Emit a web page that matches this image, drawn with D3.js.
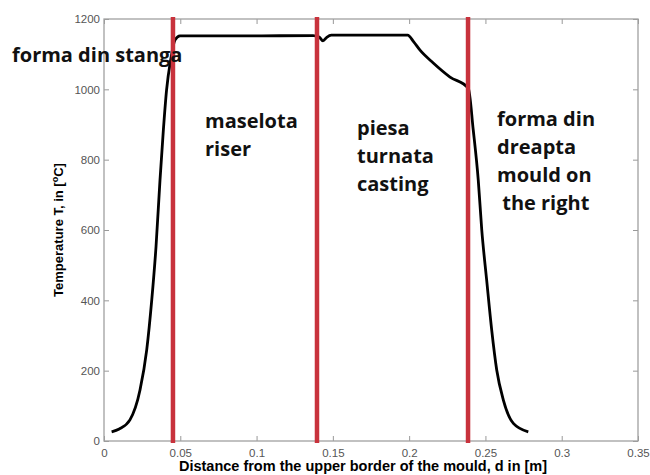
<!DOCTYPE html>
<html>
<head>
<meta charset="utf-8">
<script src="https://cdn.jsdelivr.net/npm/d3@7"></script>
<style>
  body { margin: 0; background: #fff; }
  .tick text { fill: #555; font-family: 'Liberation Sans', Arial, sans-serif; font-size: 11.5px; }
</style>
</head>
<body>
<div id="chart"></div>
<script>
// distance [m] and temperature [C]
const distance = [0.005, 0.010, 0.017, 0.0236, 0.028, 0.0313, 0.0341, 0.0367, 0.0389, 0.041, 0.0437, 0.0465, 0.0498,
    0.06, 0.1, 0.137, 0.141, 0.1435, 0.146, 0.149, 0.17, 0.199, 0.203, 0.207, 0.2158, 0.2268, 0.2388,
    0.242, 0.2453, 0.2476, 0.2508, 0.2541, 0.2574, 0.2617, 0.2683, 0.2781]
const temperature = [26, 34, 60, 145, 259, 401, 553, 742, 884, 998, 1084, 1140, 1152,
    1152, 1152, 1153, 1149, 1138, 1148, 1154, 1154, 1154, 1135, 1112, 1075, 1035, 1003,
    885, 742, 600, 458, 316, 202, 117, 50, 26]

// zone borders (red lines)
const borders = [0.0452, 0.1396, 0.2386]

const xTicks = [0, 0.05, 0.1, 0.15, 0.2, 0.25, 0.3, 0.35]
const yTicks = [0, 200, 400, 600, 800, 1000, 1200]

// zone labels, one array of lines per zone
const zoneLines = [
    ['forma din stanga'],
    ['maselota', 'riser'],
    ['piesa', 'turnata', 'casting'],
    ['forma din', 'dreapta', 'mould on', ' the right']
]
const zonePos = [[12, 62], [205, 128], [357, 135], [497, 126]]

const width = 650
const height = 475
const margin = { top: 19, right: 12, bottom: 34, left: 104 }

const svg = d3.select('#chart').append('svg')
    .attr('width', width)
    .attr('height', height)

const x = d3.scaleLinear().domain([0, 0.35]).range([margin.left, width - margin.right])
const y = d3.scaleLinear().domain([0, 1200]).range([height - margin.bottom, margin.top])

const fmt = d => String(d)

// bottom axis, ticks inward
svg.append('g')
    .attr('transform', `translate(0,${y(0)})`)
    .call(d3.axisBottom(x).tickValues(xTicks).tickFormat(fmt).tickSizeInner(-5).tickSizeOuter(0).tickPadding(8))
    .call(g => g.select('.domain').remove())
    .call(g => g.selectAll('line').attr('stroke', '#999'))

// top axis ticks
svg.append('g')
    .attr('transform', `translate(0,${y(1200)})`)
    .call(d3.axisTop(x).tickValues(xTicks).tickFormat('').tickSizeInner(-5).tickSizeOuter(0))
    .call(g => g.select('.domain').remove())
    .call(g => g.selectAll('line').attr('stroke', '#999'))

// left axis
svg.append('g')
    .attr('transform', `translate(${x(0)},0)`)
    .call(d3.axisLeft(y).tickValues(yTicks).tickFormat(fmt).tickSizeInner(-5).tickSizeOuter(0).tickPadding(4))
    .call(g => g.select('.domain').remove())
    .call(g => g.selectAll('line').attr('stroke', '#999'))

// right axis ticks
svg.append('g')
    .attr('transform', `translate(${x(0.35)},0)`)
    .call(d3.axisRight(y).tickValues(yTicks).tickFormat('').tickSizeInner(-5).tickSizeOuter(0))
    .call(g => g.select('.domain').remove())
    .call(g => g.selectAll('line').attr('stroke', '#999'))

// frame
svg.append('rect')
    .attr('x', x(0))
    .attr('y', y(1200))
    .attr('width', x(0.35) - x(0))
    .attr('height', y(0) - y(1200))
    .attr('fill', 'none')
    .attr('stroke', '#a0a0a0')
    .attr('stroke-width', 1.3)

// temperature curve
const line = d3.line()
    .x((d, i) => x(distance[i]))
    .y(d => y(d))
    .curve(d3.curveMonotoneX)

svg.append('path')
    .datum(temperature)
    .attr('d', line)
    .attr('fill', 'none')
    .attr('stroke', '#000')
    .attr('stroke-width', 2.8)
    .attr('stroke-linejoin', 'round')

// red zone borders
svg.selectAll('.border').data(borders).enter()
    .append('line')
    .attr('class', 'border')
    .attr('x1', d => x(d))
    .attr('x2', d => x(d))
    .attr('y1', y(1200) - 2)
    .attr('y2', y(0) + 2)
    .attr('stroke', '#c8323c')
    .attr('stroke-width', 4.5)

// axis titles
svg.append('text')
    .attr('x', 363)
    .attr('y', 471)
    .attr('text-anchor', 'middle')
    .attr('font-family', '\'Liberation Sans\', Arial, sans-serif')
    .attr('font-weight', 'bold')
    .attr('font-size', 14.5)
    .text('Distance from the upper border of the mould, d in [m]')

const yTitle = svg.append('text')
    .attr('transform', `translate(63,${(y(0) + y(1200)) / 2}) rotate(-90)`)
    .attr('text-anchor', 'middle')
    .attr('font-family', '\'Liberation Sans\', Arial, sans-serif')
    .attr('font-weight', 'bold')
    .attr('font-size', 13)
yTitle.append('tspan').text('Temperature T, in [')
yTitle.append('tspan').attr('font-size', 9).attr('dy', -5).text('o')
yTitle.append('tspan').attr('dy', 5).text('C]')

// zone labels
zoneLines.forEach((lines, k) => {
    const t = svg.append('text')
        .attr('x', zonePos[k][0])
        .attr('y', zonePos[k][1])
        .attr('font-family', '\'Open Sans\', sans-serif')
        .attr('font-weight', 'bold')
        .attr('font-size', 20)
        .attr('fill', '#111')
        .attr('xml:space', 'preserve')
        .style('white-space', 'pre')
    lines.forEach((s, i) => {
        t.append('tspan')
            .attr('x', zonePos[k][0])
            .attr('dy', i === 0 ? 0 : 28)
            .text(s)
    })
})
</script>
</body>
</html>
